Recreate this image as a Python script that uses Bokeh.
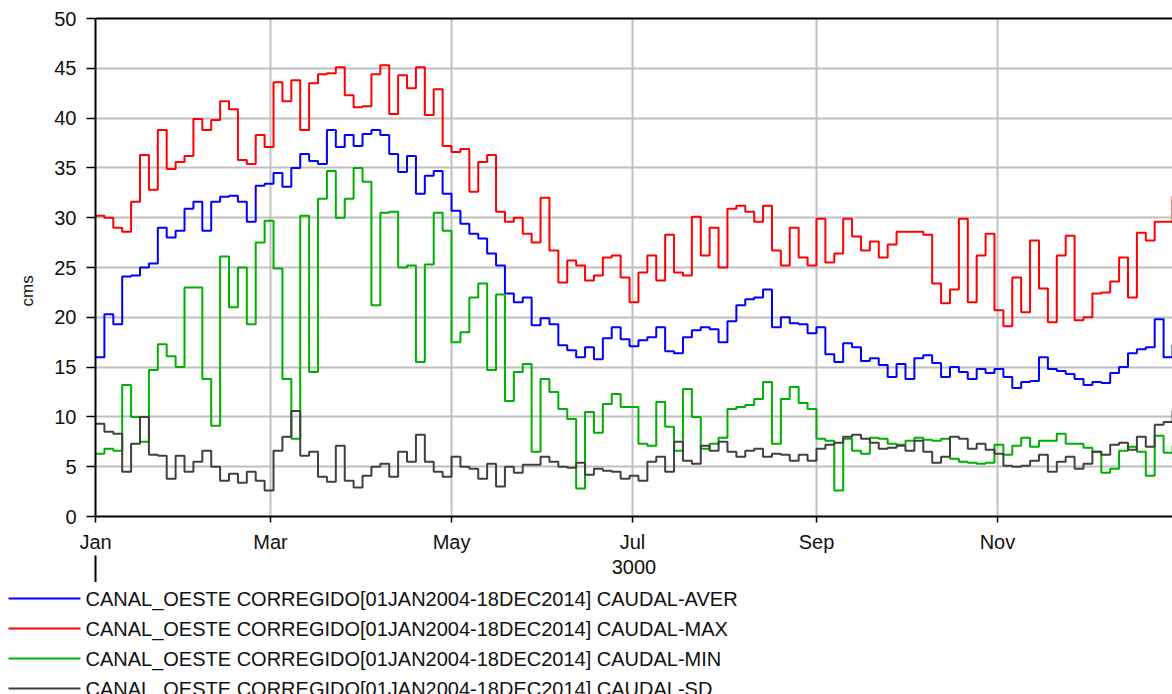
from bokeh.plotting import figure
from bokeh.models import Range1d, FixedTicker, LinearAxis, Title
from bokeh.embed import file_html
from bokeh.resources import INLINE
from bokeh.core.properties import value

# ---------------- data (daily statistics, sampled every 3 days) ----------------
DAYS = list(range(0, 364, 3))
DAY_END = 363

AVER = [16.0, 20.3, 19.3, 24.1, 24.2, 25.0, 25.4, 29.0, 28.0, 28.7,
        30.9, 31.6, 28.7, 31.6, 32.1, 32.2, 31.6, 29.6, 33.2, 33.4,
        34.5, 33.1, 35.0, 36.4, 35.7, 35.4, 38.8, 37.1, 38.3, 37.2,
        38.4, 38.8, 38.3, 36.4, 34.6, 36.2, 32.4, 34.2, 34.7, 32.4,
        30.7, 29.4, 28.4, 27.9, 26.4, 25.2, 22.4, 21.5, 22.0, 19.2,
        19.9, 19.3, 17.2, 16.7, 16.0, 17.0, 15.8, 17.9, 19.0, 17.8,
        17.1, 17.7, 18.0, 19.0, 16.6, 16.4, 18.0, 18.7, 19.0, 18.8,
        17.5, 19.6, 21.2, 21.8, 22.0, 22.8, 19.0, 20.0, 19.4, 19.3, 18.4,
        19.0, 16.3, 15.5, 17.4, 17.0, 15.6, 15.9, 15.2, 14.0, 15.3,
        13.8, 15.9, 16.2, 15.4, 14.0, 15.0, 14.5, 13.8, 14.8, 14.4,
        14.8, 14.0, 12.9, 13.5, 13.6, 16.0, 14.8, 14.6, 14.3, 13.8,
        13.2, 13.5, 13.4, 14.4, 15.0, 16.4, 16.8, 17.0, 19.8, 16.0, 17.2]

MAX = [30.2, 30.0, 29.0, 28.6, 31.6, 36.3, 32.8, 38.8, 34.9, 35.6,
       36.2, 39.9, 38.8, 39.8, 41.7, 40.9, 35.8, 35.4, 38.3, 37.1,
       43.6, 41.7, 43.8, 38.8, 43.5, 44.4, 44.5, 45.1, 42.3, 41.1,
       41.2, 44.4, 45.3, 40.4, 44.3, 43.0, 45.1, 40.3, 42.9, 37.2,
       36.6, 36.9, 32.6, 35.6, 36.3, 30.6, 29.6, 30.0, 28.4, 27.5,
       32.0, 26.7, 23.5, 25.7, 25.2, 23.7, 24.2, 26.0, 26.2, 24.0,
       21.5, 24.5, 26.2, 23.7, 28.3, 24.5, 24.2, 30.1, 26.2, 29.0,
       25.0, 30.9, 31.2, 30.6, 29.6, 31.2, 26.7, 25.2, 29.0, 26.0, 25.2,
       29.9, 25.5, 26.4, 29.9, 28.1, 26.7, 27.6, 26.0, 27.3, 28.6,
       28.6, 28.6, 28.3, 23.4, 21.4, 22.8, 29.9, 21.5, 26.2, 28.4,
       20.7, 19.1, 24.0, 20.5, 27.7, 22.9, 19.5, 26.2, 28.2, 19.7,
       20.0, 22.4, 22.5, 23.6, 26.0, 22.0, 28.5, 27.7, 29.6, 29.6, 32.1]

MIN = [6.3, 6.8, 6.6, 13.2, 10.0, 7.5, 14.7, 17.3, 16.1, 15.0,
       23.0, 23.0, 13.8, 9.1, 26.1, 21.0, 25.0, 19.3, 27.5, 29.7,
       24.9, 13.8, 7.8, 30.2, 14.5, 31.9, 34.7, 30.0, 31.9, 35.0,
       33.6, 21.2, 30.5, 30.6, 25.0, 25.2, 15.5, 25.3, 30.5, 28.7,
       17.5, 18.5, 22.0, 23.4, 14.7, 22.3, 11.6, 14.5, 15.3, 6.5,
       13.8, 12.5, 10.8, 9.8, 2.8, 10.5, 8.4, 11.3, 12.3, 11.0,
       11.0, 7.3, 7.1, 11.5, 9.0, 6.6, 12.8, 10.0, 6.8, 7.3,
       7.9, 10.8, 11.0, 11.2, 11.8, 13.5, 7.3, 11.8, 13.0, 11.4, 10.8,
       7.8, 7.6, 2.6, 7.8, 6.6, 6.3, 7.9, 7.8, 7.3, 7.2,
       7.6, 7.9, 7.7, 7.6, 7.8, 5.8, 5.5, 5.4, 5.3, 5.4,
       7.2, 6.2, 7.1, 7.9, 7.0, 7.6, 7.6, 8.3, 7.3, 7.3,
       6.9, 6.5, 4.4, 4.8, 6.6, 7.0, 6.5, 4.1, 8.1, 6.4, 7.1]

SD = [9.3, 8.5, 8.3, 4.5, 7.3, 10.0, 6.2, 6.1, 3.8, 6.1,
      4.5, 5.5, 6.6, 5.0, 3.6, 4.3, 3.4, 4.5, 3.6, 2.6,
      6.6, 8.0, 10.6, 6.1, 6.5, 4.0, 3.5, 7.1, 3.6, 2.9,
      4.1, 5.0, 5.3, 4.0, 6.5, 5.5, 8.2, 5.5, 4.5, 4.0,
      6.0, 5.0, 4.8, 3.8, 5.3, 3.0, 5.0, 4.4, 5.2, 5.2,
      6.0, 5.5, 5.0, 4.9, 5.4, 4.2, 4.8, 4.6, 4.5, 3.8,
      4.1, 3.6, 5.5, 6.0, 4.5, 7.5, 5.6, 5.3, 7.1, 6.6,
      7.5, 6.5, 6.0, 6.6, 6.8, 6.0, 6.3, 6.2, 5.6, 6.2, 5.6,
      6.8, 7.2, 7.4, 8.0, 8.2, 7.8, 7.4, 6.8, 6.9, 7.1,
      6.6, 7.6, 6.5, 5.4, 6.0, 8.0, 7.8, 6.8, 7.3, 6.7,
      6.3, 5.1, 5.0, 5.1, 5.6, 6.2, 4.5, 5.5, 6.0, 4.8,
      5.3, 6.5, 6.2, 7.2, 7.4, 6.7, 8.0, 7.0, 9.2, 9.5, 10.6]

MONTH_TICKS = [0, 59, 120, 181, 243, 304]
MONTH_LABELS = ["Jan", "Mar", "May", "Jul", "Sep", "Nov"]
YEAR_TICKS = [0]
Y_TICKS = [0, 5, 10, 15, 20, 25, 30, 35, 40, 45, 50]
YEAR_LABEL = "3000"
Y_LABEL = "cms"
SERIES_NAMES = [
    "CANAL_OESTE CORREGIDO[01JAN2004-18DEC2014] CAUDAL-AVER",
    "CANAL_OESTE CORREGIDO[01JAN2004-18DEC2014] CAUDAL-MAX",
    "CANAL_OESTE CORREGIDO[01JAN2004-18DEC2014] CAUDAL-MIN",
    "CANAL_OESTE CORREGIDO[01JAN2004-18DEC2014] CAUDAL-SD",
]
SERIES = [AVER, MAX, MIN, SD]
COLORS = ["#0000ff", "#ff0000", "#00b000", "#404040"]

FONT = "Liberation Sans"
TXT = "#111111"
GRID = "#c0c0c0"

# page layout (Bokeh's page has no body margin): frame at x 95..1172, y 18..516
W, H = 1172, 694
FL, FT, FB = 95, 18, 516
CHART_H = 582          # chart canvas height; legend canvas below it

p = figure(width=W, height=CHART_H,
           x_range=Range1d(0, DAY_END), y_range=Range1d(0, 50),
           output_backend="svg", toolbar_location=None,
           min_border_left=FL, min_border_right=0,
           min_border_top=FT, min_border_bottom=CHART_H - FB)
p.outline_line_color = None
p.background_fill_color = "white"
p.border_fill_color = "white"

for arr, col in zip(SERIES, COLORS):
    xs = DAYS + [DAY_END + 1]
    ys = arr + [arr[-1]]
    p.step(xs, ys, mode="after", line_color=col, line_width=2)

# month axis
xa = p.xaxis[0]
xa.ticker = FixedTicker(ticks=MONTH_TICKS)
xa.major_label_overrides = {t: l for t, l in zip(MONTH_TICKS, MONTH_LABELS)}
xa.axis_line_color = "black"
xa.axis_line_width = 2
xa.major_tick_line_color = "black"
xa.major_tick_line_width = 1.5
xa.major_tick_in = 0
xa.major_tick_out = 6
xa.minor_tick_line_color = None
xa.major_label_standoff = 8
xa.major_label_text_font = FONT
xa.major_label_text_font_size = "20px"
xa.major_label_text_color = TXT

# year axis (tick at the start of the year, year label)
year_axis = LinearAxis(ticker=FixedTicker(ticks=YEAR_TICKS),
                       axis_line_color=None, major_tick_line_color="black",
                       major_tick_line_width=2, major_tick_in=0, major_tick_out=27,
                       minor_tick_line_color=None,
                       major_label_text_font_size="1px",
                       major_label_text_color=None, major_label_standoff=0,
                       axis_label=YEAR_LABEL, axis_label_standoff=-23,
                       axis_label_text_font=FONT, axis_label_text_font_size="20px",
                       axis_label_text_font_style="normal",
                       axis_label_text_color=TXT)
p.add_layout(year_axis, "below")

ya = p.yaxis[0]
ya.ticker = FixedTicker(ticks=Y_TICKS)
ya.axis_line_color = "black"
ya.axis_line_width = 2
ya.major_tick_line_color = "black"
ya.major_tick_line_width = 1.5
ya.major_tick_in = 0
ya.major_tick_out = 9
ya.minor_tick_line_color = None
ya.major_label_standoff = 10
ya.major_label_text_font = FONT
ya.major_label_text_font_size = "20px"
ya.major_label_text_color = TXT

# y-axis title: starts near y=306 and runs upward
p.add_layout(Title(text=Y_LABEL, align="left", offset=FB - 306,
                   text_font=FONT, text_font_size="17px",
                   text_font_style="normal", text_color=TXT, standoff=30), "left")

top = LinearAxis(ticker=FixedTicker(ticks=[]), axis_line_color="black",
                 axis_line_width=2, major_tick_line_color=None,
                 minor_tick_line_color=None)
p.add_layout(top, "above")

p.xgrid.grid_line_color = GRID
p.xgrid.grid_line_width = 2
p.ygrid.grid_line_color = GRID
p.ygrid.grid_line_width = 2

# ---------------- legend canvas (data coords = page pixels) ----------------
lg = figure(width=W, height=H - CHART_H,
            x_range=Range1d(0, W), y_range=Range1d(H, CHART_H),
            output_backend="svg", toolbar_location=None,
            x_axis_location=None, y_axis_location=None, min_border=0)
lg.outline_line_color = None
lg.grid.visible = False

row_y = [598 + 30 * i for i in range(len(SERIES_NAMES))]
lg.segment(x0=[8] * len(row_y), x1=[80] * len(row_y), y0=row_y, y1=row_y,
           line_color=COLORS, line_width=2)
lg.text(x=[85] * len(row_y), y=row_y, text=SERIES_NAMES,
        text_font=value(FONT), text_font_size=value("20px"),
        text_color=TXT, text_baseline="middle", text_align="left")

open("out.html", "w").write(file_html([p, lg], INLINE))
